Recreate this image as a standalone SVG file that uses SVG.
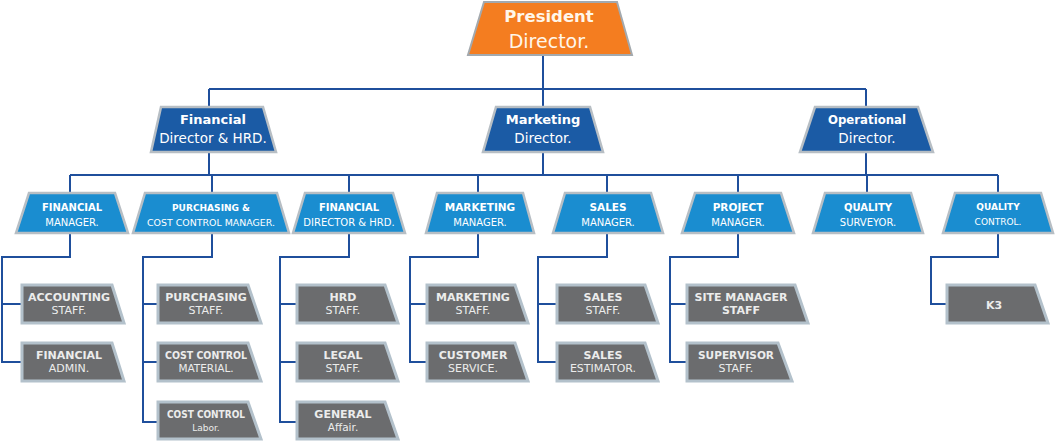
<svg xmlns="http://www.w3.org/2000/svg" width="1055" height="441" viewBox="0 0 1055 441">
<style>
text{font-family:"DejaVu Sans","Liberation Sans",sans-serif;text-anchor:middle}
.top{fill:#f47d20;stroke:#a3a9ae;stroke-width:2}
.l2{fill:#1b5ba5;stroke:#b7bec4;stroke-width:2.5}
.l3{fill:#1a8dd0;stroke:#b7bec4;stroke-width:2.5}
.l4{fill:#6b6c6e;stroke:#b3c1cb;stroke-width:3}
.tw{fill:#fff6ea}
.w{fill:#ffffff}
.g{fill:#ececec}
.b{font-weight:bold}
.conn path{fill:none;stroke:#1f4f9c;stroke-width:2}
</style>
<rect width="1055" height="441" fill="#ffffff"/>
<g class="conn" id="connectors">
<path d="M543,55 V89 M209,89 H866 M209,89 V107 M543,89 V107 M866,89 V107"/>
<path d="M209,152 V175 M543,152 V175 M866,152 V175 M70,175 H998 M70,175 V193 M212,175 V193 M349,175 V193 M478,175 V193 M607,175 V193 M738,175 V193 M867,175 V193 M998,175 V193"/>
<path d="M70,233 V257 H2 V362 H22 M2,304 H22"/>
<path d="M212,233 V257 H143 V422 H158 M143,304 H158 M143,362 H158"/>
<path d="M349,233 V257 H280 V422 H297 M280,304 H297 M280,362 H297"/>
<path d="M478,233 V257 H410 V362 H427 M410,304 H427"/>
<path d="M607,233 V257 H538 V362 H557 M538,304 H557"/>
<path d="M738,233 V257 H670 V362 H687 M670,304 H687"/>
<path d="M998,233 V257 H931 V304 H947"/>
</g>
<g id="president">
<polygon class="top" points="484,2 617,2 632,55 468,55"/>
<text class="tw b" x="549" y="22" font-size="16.5">President</text>
<text class="tw" x="549" y="48" font-size="19">Director.</text>
</g>
<g id="financial-director">
<polygon class="l2" points="161,107 263,107 276,152 151,152"/>
<text class="w b" x="213" y="124" font-size="13">Financial</text>
<text class="w" x="213" y="143" font-size="13.5">Director &amp; HRD.</text>
</g>
<g id="marketing-director">
<polygon class="l2" points="496,107 590,107 603,152 483,152"/>
<text class="w b" x="543" y="124" font-size="13">Marketing</text>
<text class="w" x="543" y="143" font-size="13.5">Director.</text>
</g>
<g id="operational-director">
<polygon class="l2" points="815,107 918,107 933,152 800,152"/>
<text class="w b" x="867" y="124" font-size="13" textLength="78" lengthAdjust="spacingAndGlyphs">Operational</text>
<text class="w" x="867" y="143" font-size="13.5">Director.</text>
</g>
<g id="financial-manager">
<polygon class="l3" points="29,193 115,193 128,233 16,233"/>
<text class="w b" x="72" y="211" font-size="10">FINANCIAL</text>
<text class="w" x="72" y="226" font-size="10">MANAGER.</text>
</g>
<g id="purchasing-manager">
<polygon class="l3" points="145,193 277,193 289,233 133,233"/>
<text class="w b" x="211" y="211" font-size="9.5" textLength="78" lengthAdjust="spacingAndGlyphs">PURCHASING &amp;</text>
<text class="w" x="211" y="226" font-size="9.5" textLength="128" lengthAdjust="spacingAndGlyphs">COST CONTROL MANAGER.</text>
</g>
<g id="financial-director-hrd">
<polygon class="l3" points="305,193 393,193 405,233 293,233"/>
<text class="w b" x="349" y="211" font-size="10">FINANCIAL</text>
<text class="w" x="349" y="226" font-size="10">DIRECTOR &amp; HRD.</text>
</g>
<g id="marketing-manager">
<polygon class="l3" points="437,193 523,193 534,233 426,233"/>
<text class="w b" x="480" y="211" font-size="10.5">MARKETING</text>
<text class="w" x="480" y="226" font-size="10">MANAGER.</text>
</g>
<g id="sales-manager">
<polygon class="l3" points="565,193 651,193 663,233 553,233"/>
<text class="w b" x="608" y="211" font-size="10.5">SALES</text>
<text class="w" x="608" y="226" font-size="10">MANAGER.</text>
</g>
<g id="project-manager">
<polygon class="l3" points="695,193 781,193 794,233 682,233"/>
<text class="w b" x="738" y="211" font-size="10.5">PROJECT</text>
<text class="w" x="738" y="226" font-size="10">MANAGER.</text>
</g>
<g id="quality-surveyor">
<polygon class="l3" points="825,193 911,193 923,233 813,233"/>
<text class="w b" x="868" y="211" font-size="10">QUALITY</text>
<text class="w" x="868" y="226" font-size="10">SURVEYOR.</text>
</g>
<g id="quality-control">
<polygon class="l3" points="955,193 1041,193 1053,233 943,233"/>
<text class="w b" x="998" y="210" font-size="9">QUALITY</text>
<text class="w" x="998" y="225" font-size="9">CONTROL.</text>
</g>
<g id="accounting-staff">
<polygon class="l4" points="22,285 112,285 124,323 22,323"/>
<text class="g b" x="69" y="301" font-size="11">ACCOUNTING</text>
<text class="g" x="69" y="314" font-size="11">STAFF.</text>
</g>
<g id="financial-admin">
<polygon class="l4" points="22,343 112,343 124,381 22,381"/>
<text class="g b" x="69" y="359" font-size="11">FINANCIAL</text>
<text class="g" x="69" y="372" font-size="11">ADMIN.</text>
</g>
<g id="purchasing-staff">
<polygon class="l4" points="158,285 248,285 261,323 158,323"/>
<text class="g b" x="206" y="301" font-size="11">PURCHASING</text>
<text class="g" x="206" y="314" font-size="11">STAFF.</text>
</g>
<g id="cost-control-material">
<polygon class="l4" points="158,343 248,343 261,381 158,381"/>
<text class="g b" x="206" y="359" font-size="11" textLength="82" lengthAdjust="spacingAndGlyphs">COST CONTROL</text>
<text class="g" x="206" y="372" font-size="10.5">MATERIAL.</text>
</g>
<g id="cost-control-labor">
<polygon class="l4" points="158,402 248,402 261,439 158,439"/>
<text class="g b" x="206" y="418" font-size="11" textLength="78" lengthAdjust="spacingAndGlyphs">COST CONTROL</text>
<text class="g" x="206" y="431" font-size="9">Labor.</text>
</g>
<g id="hrd-staff">
<polygon class="l4" points="297,285 385,285 398,323 297,323"/>
<text class="g b" x="343" y="301" font-size="11">HRD</text>
<text class="g" x="343" y="314" font-size="11">STAFF.</text>
</g>
<g id="legal-staff">
<polygon class="l4" points="297,343 385,343 398,381 297,381"/>
<text class="g b" x="343" y="359" font-size="11">LEGAL</text>
<text class="g" x="343" y="372" font-size="11">STAFF.</text>
</g>
<g id="general-affair">
<polygon class="l4" points="297,402 385,402 398,439 297,439"/>
<text class="g b" x="343" y="418" font-size="11">GENERAL</text>
<text class="g" x="343" y="431" font-size="10.5">Affair.</text>
</g>
<g id="marketing-staff">
<polygon class="l4" points="427,285 515,285 528,323 427,323"/>
<text class="g b" x="473" y="301" font-size="11">MARKETING</text>
<text class="g" x="473" y="314" font-size="11">STAFF.</text>
</g>
<g id="customer-service">
<polygon class="l4" points="427,343 515,343 528,381 427,381"/>
<text class="g b" x="473" y="359" font-size="11">CUSTOMER</text>
<text class="g" x="473" y="372" font-size="11">SERVICE.</text>
</g>
<g id="sales-staff">
<polygon class="l4" points="557,285 645,285 658,323 557,323"/>
<text class="g b" x="603" y="301" font-size="11">SALES</text>
<text class="g" x="603" y="314" font-size="11">STAFF.</text>
</g>
<g id="sales-estimator">
<polygon class="l4" points="557,343 645,343 658,381 557,381"/>
<text class="g b" x="603" y="359" font-size="11">SALES</text>
<text class="g" x="603" y="372" font-size="11">ESTIMATOR.</text>
</g>
<g id="site-manager-staff">
<polygon class="l4" points="687,285 795,285 808,323 687,323"/>
<text class="g b" x="741" y="301" font-size="11">SITE MANAGER</text>
<text class="g b" x="741" y="314" font-size="11">STAFF</text>
</g>
<g id="supervisor-staff">
<polygon class="l4" points="687,343 778,343 792,381 687,381"/>
<text class="g b" x="736" y="359" font-size="11" textLength="76" lengthAdjust="spacingAndGlyphs">SUPERVISOR</text>
<text class="g" x="736" y="372" font-size="11">STAFF.</text>
</g>
<g id="k3">
<polygon class="l4" points="947,285 1035,285 1048,323 947,323"/>
<text class="g b" x="994" y="309" font-size="11">K3</text>
</g>
</svg>
